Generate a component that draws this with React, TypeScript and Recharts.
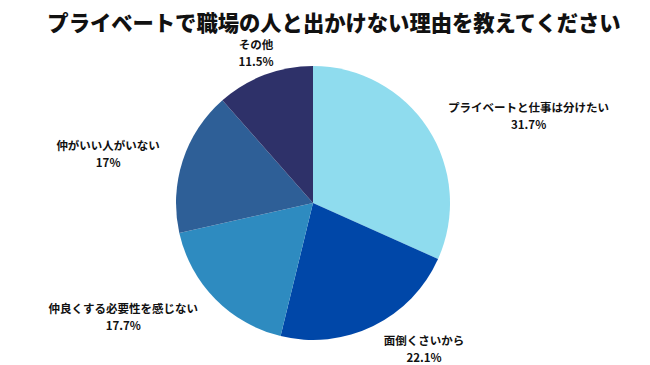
import { PieChart, Pie, Cell } from "recharts";

const reasons = [
  "プライベートと仕事は分けたい",
  "面倒くさいから",
  "仲良くする必要性を感じない",
  "仲がいい人がいない",
  "その他",
];
const shares = [31.7, 22.1, 17.7, 17, 11.5];
const colors = ["#8fdcee", "#0047a8", "#2e8bc0", "#2e5f97", "#2e3169"];

const data = reasons.map((name, i) => ({ name, value: shares[i] }));

const FONT = '"Noto Sans CJK JP", "Noto Sans", sans-serif';
const LABEL_SIZE = 11.5;
const RADIAN = Math.PI / 180;

function renderLabel(props: any) {
  const { cx, cy, outerRadius, midAngle, name, value } = props;
  const r = outerRadius + 24;
  const dx = Math.cos(-midAngle * RADIAN);
  const dy = Math.sin(-midAngle * RADIAN);
  const x = cx + r * dx;
  const y = cy + r * dy;
  const w = name.length * LABEL_SIZE;
  let mid = x;
  if (Math.abs(dx) > 0.4) mid = dx > 0 ? x + w / 2 : x - w / 2;
  return (
    <text
      x={mid}
      y={y}
      textAnchor="middle"
      fontFamily={FONT}
      fontWeight={700}
      fontSize={LABEL_SIZE}
      fill="#111"
    >
      <tspan x={mid} dy={-3}>
        {name}
      </tspan>
      <tspan x={mid} dy={17}>
        {value}%
      </tspan>
    </text>
  );
}

export default function App() {
  return (
    <div
      style={{
        position: "absolute",
        left: 0,
        top: 0,
        width: 650,
        height: 365,
        background: "#fff",
        fontFamily: FONT,
      }}
    >
      <div
        style={{
          position: "absolute",
          left: 9,
          top: 9,
          width: 650,
          textAlign: "center",
          fontSize: 21.3,
          fontWeight: 900,
          color: "#111",
          lineHeight: "26px",
        }}
      >
        プライベートで職場の人と出かけない理由を教えてください
      </div>
      <PieChart width={650} height={365} margin={{ top: 0, right: 0, bottom: 0, left: 0 }}>
        <Pie
          data={data}
          dataKey="value"
          nameKey="name"
          cx={313}
          cy={203}
          outerRadius={137}
          startAngle={90}
          endAngle={-270}
          stroke="none"
          label={renderLabel}
          labelLine={false}
          isAnimationActive={false}
        >
          {data.map((d, i) => (
            <Cell key={d.name} fill={colors[i]} />
          ))}
        </Pie>
      </PieChart>
    </div>
  );
}
